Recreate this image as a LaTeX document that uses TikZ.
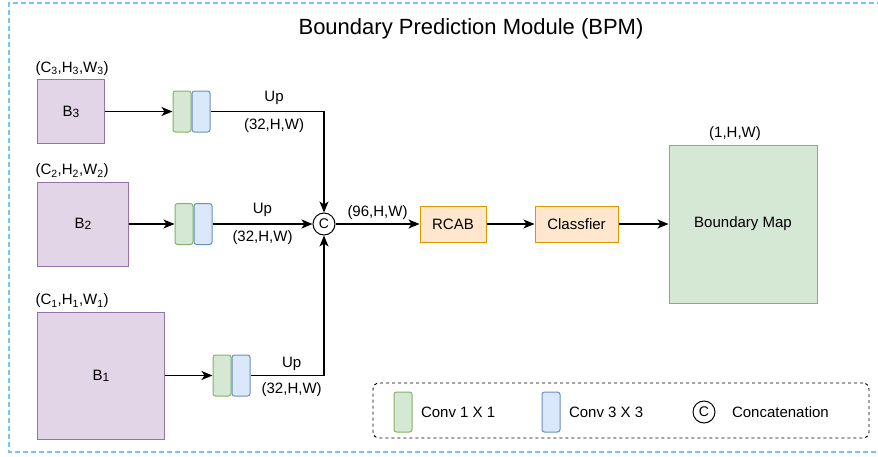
\documentclass[tikz,border=0pt]{standalone}
\usepackage{fontspec}
\setmainfont{Liberation Sans}
\usetikzlibrary{arrows.meta,positioning}
\definecolor{purpL}{HTML}{E1D5E7}
\definecolor{purpD}{HTML}{9673A6}
\definecolor{grnL}{HTML}{D5E8D4}
\definecolor{grnD}{HTML}{82B366}
\definecolor{bluL}{HTML}{DAE8FC}
\definecolor{bluD}{HTML}{6C8EBF}
\definecolor{orgL}{HTML}{FFE6CC}
\definecolor{orgD}{HTML}{D79B00}
\definecolor{frameblue}{RGB}{120,195,250}

\begin{document}
\begin{tikzpicture}[x=1pt,y=-1pt,>={Stealth[length=11pt,width=9pt,inset=3pt]},
font=\fontsize{15}{18}\selectfont,
feat/.style={draw=purpD,fill=purpL,line width=1pt,inner sep=0pt},
c1/.style={draw=grnD,fill=grnL,rounded corners=2.5pt,minimum width=18pt,minimum height=41pt,inner sep=0pt,line width=1pt},
c3/.style={c1,draw=bluD,fill=bluL},
op/.style={draw=orgD,fill=orgL,minimum height=36pt,line width=1pt},
cc/.style={draw,circle,minimum size=22pt,inner sep=0pt,line width=1pt,font=\fontsize{14}{14}\selectfont},
ln/.style={line width=1.3pt,->}]
\useasboundingbox (0,0) rectangle (878,456);
\draw[frameblue,dash pattern=on 5pt off 3pt,line width=1.3pt] (882,3) -- (9,3) -- (9,452) -- (882,452);
\node[font=\fontsize{22}{26}\selectfont] (title) at (471,29) {Boundary Prediction Module (BPM)};
% three input branches
\foreach \i/\y/\w/\h/\gx in {3/111.5/67/64/182, 2/224/91/84/184, 1/375.5/127/127/222}{
\node[feat,minimum width=\w pt,minimum height=\h pt,anchor=west,
 label={[anchor=south west,xshift=-5pt]north west:(C\textsubscript{\i},H\textsubscript{\i},W\textsubscript{\i})}]
 (b\i) at (37,\y) {B\raisebox{-1pt}{\fontsize{12}{12}\selectfont\i}};
\node[c1] (g\i) at (\gx,\y) {};
\node[c3,right=0pt of g\i] (u\i) {};
\draw[ln] (b\i) -- (g\i);}
\node[cc] (cat) at (324,224) {C};
\draw[ln] (u3) -| node[pos=.28,above=3pt]{Up} node[pos=.28,below=3pt]{(32,H,W)} (cat);
\draw[ln] (u2) -- node[above=3pt]{Up} node[below=3pt]{(32,H,W)} (cat);
\draw[ln] (u1) -| node[pos=.28,above=1pt]{Up} node[pos=.28,below=3pt]{(32,H,W)} (cat);
% head
\node[op,minimum width=66pt] (rcab) at (453,224) {RCAB};
\node[op,minimum width=83pt] (cls) at (576.5,224) {Classfier};
\node[draw=grnD,fill=grnL,line width=1pt,minimum width=148pt,minimum height=158pt,
 label={[xshift=-8pt]above:(1,H,W)}] (bmap) at (743,224) {Boundary Map};
\draw[ln] (cat) -- node[above]{(96,H,W)} (rcab);
\draw[ln] (rcab) -- (cls);
\draw[ln] (cls) -- (bmap);
% legend
\node[draw,dashed,rounded corners=6pt,line width=0.9pt,minimum width=496pt,minimum height=55pt] (legend) at (621,410.5) {};
\node[c1,minimum height=40pt] (lg) at (403,412) {};
\node[right=5pt of lg] (lgt) {Conv 1 X 1};
\node[c3,minimum height=40pt] (lb) at (551,412) {};
\node[right=5pt of lb] (lbt) {Conv 3 X 3};
\node[cc] (lc) at (704,412) {C};
\node[right=13pt of lc] (lct) {Concatenation};
\end{tikzpicture}
\end{document}
